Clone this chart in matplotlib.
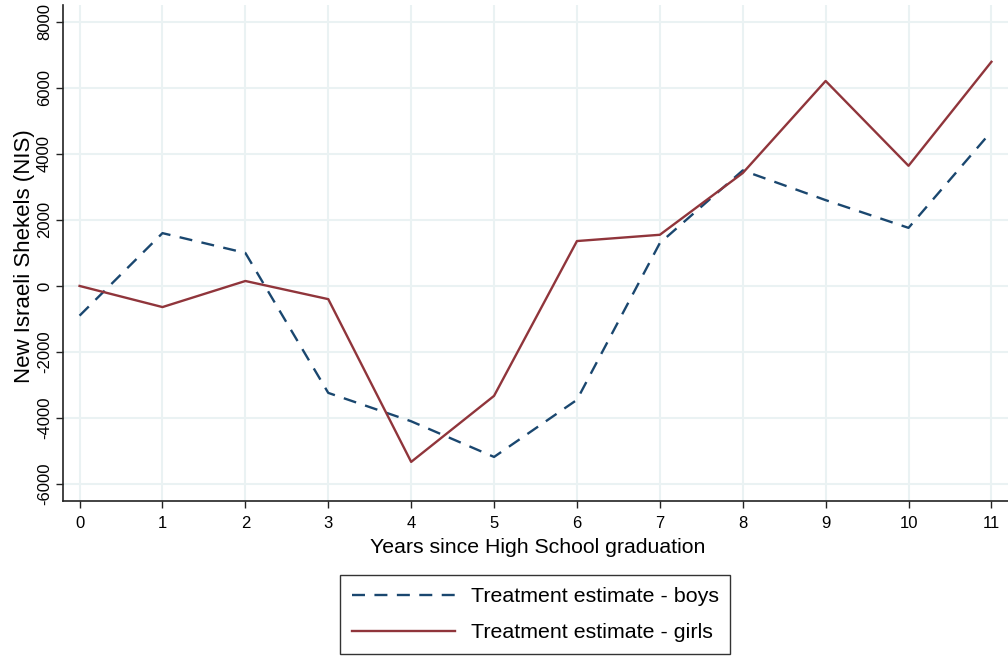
import numpy as np
import matplotlib
matplotlib.use('Agg')
import matplotlib.pyplot as plt

plt.rcParams['font.family']=['Liberation Sans','DejaVu Sans']

# years since graduation
years=list(range(12))
# treatment estimates (NIS)
boys=[-900,1600,1000,-3240,-4100,-5180,-3450,1300,3500,2600,1760,4680]
girls=[0,-640,150,-400,-5330,-3330,1360,1550,3420,6210,3640,6790]
yticks=[-6000,-4000,-2000,0,2000,4000,6000,8000]

cb='#1a476f';cg='#90353b';cgrid='#eaf2f3'

fig=plt.figure(figsize=(10.08,6.58),dpi=100)
ax=fig.add_axes([0.0625,0.2386,0.9375,0.754])

ax.plot(years,boys,color=cb,lw=1.7,dashes=(5.5,4),label='Treatment estimate - boys')
ax.plot(years,girls,color=cg,lw=1.7,label='Treatment estimate - girls')

ax.set_xlim(-0.2,11.2)
ax.set_ylim(-6515,8515)
ax.set_xticks(years)
ax.set_yticks(yticks)
ax.set_yticklabels([str(v) for v in yticks],rotation=90,va='center')
ax.tick_params(axis='both',labelsize=12,length=5,width=1,color='#222222')
ax.tick_params(axis='x',pad=6)
ax.tick_params(axis='y',pad=3)
ax.grid(True,color=cgrid,lw=1.5)
ax.set_axisbelow(True)
for s in ['top','right']:
    ax.spines[s].set_visible(False)
for s in ['left','bottom']:
    ax.spines[s].set_linewidth(1.2)
    ax.spines[s].set_color('#222222')

ax.set_xlabel('Years since High School graduation',fontsize=15.3)
ax.xaxis.set_label_coords(0.5025,-0.074)
ax.set_ylabel('New Israeli Shekels (NIS)',fontsize=16)
ax.yaxis.set_label_coords(-0.03,0.493)

fig.legend(loc='center',bbox_to_anchor=(0.531,0.066),ncol=1,fontsize=15.4,
           frameon=True,fancybox=False,edgecolor='black',handlelength=4.8,
           handletextpad=0.75,borderpad=0.55,labelspacing=0.8)

fig.savefig('out.png',dpi=100,facecolor='white')
